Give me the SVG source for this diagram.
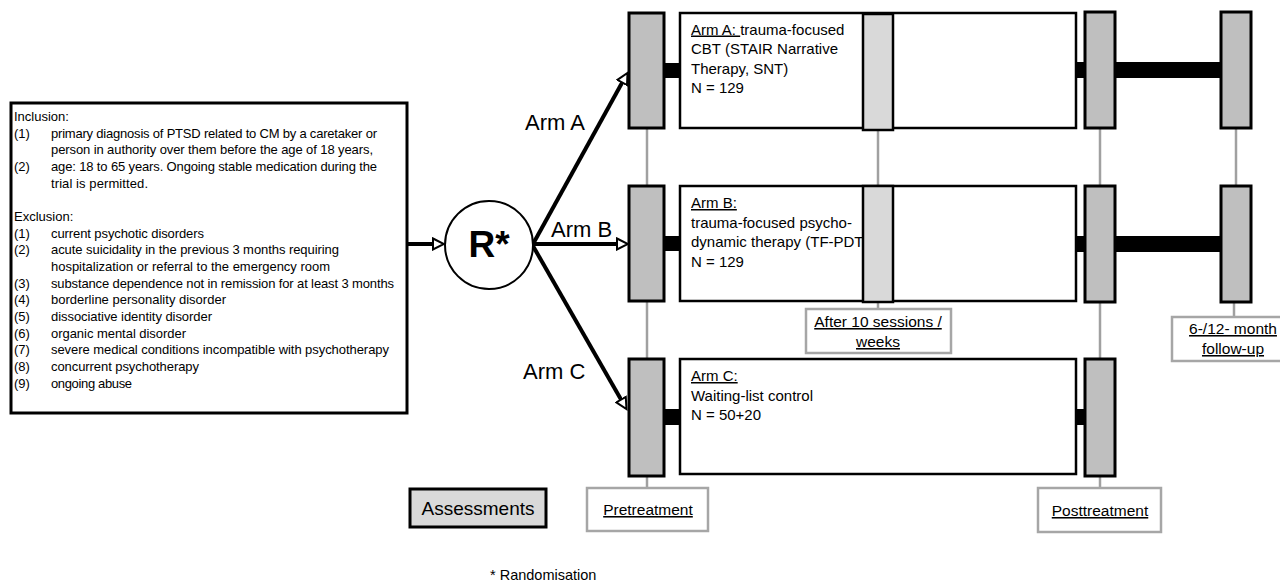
<svg xmlns="http://www.w3.org/2000/svg" width="1280" height="585" viewBox="0 0 1280 585">
<defs>
<marker id="ah" markerUnits="userSpaceOnUse" markerWidth="14" markerHeight="14" viewBox="-1 -7 14 14" refX="0" refY="0" orient="auto">
<path d="M0,-5.5 L11,0 L0,5.5 Z" fill="#fff" stroke="#000" stroke-width="2"/>
</marker>
<style>
text{font-family:"Liberation Sans",Arial,sans-serif;fill:#000}
.crit{font-size:13px}
.armt{font-size:15px}
.lab{font-size:15.5px;text-anchor:middle;text-decoration:underline}
.u{text-decoration:underline}
.box{fill:#fff;stroke:#000;stroke-width:2.5}
.asm{fill:#bfbfbf;stroke:#000;stroke-width:3}
.mid{fill:#d9d9d9;stroke:#000;stroke-width:2.5}
.lbl{fill:#fff;stroke:#a6a6a6;stroke-width:2.5}
.gl{stroke:#a0a0a0;stroke-width:2.5;fill:none}
.arr{stroke:#000;stroke-width:4;fill:none;marker-end:url(#ah)}
</style>
</defs>
<rect width="1280" height="585" fill="#fff"/>

<g id="connectors">
<line class="gl" x1="647" y1="128" x2="647" y2="186"/>
<line class="gl" x1="647" y1="301" x2="647" y2="359"/>
<line class="gl" x1="647" y1="476" x2="647" y2="488"/>
<line class="gl" x1="878" y1="130" x2="878" y2="186"/>
<line class="gl" x1="878" y1="301" x2="878" y2="309"/>
<line class="gl" x1="1100" y1="128" x2="1100" y2="186"/>
<line class="gl" x1="1100" y1="302" x2="1100" y2="359"/>
<line class="gl" x1="1100" y1="476" x2="1100" y2="488"/>
<line class="gl" x1="1236" y1="128" x2="1236" y2="186"/>
<line class="gl" x1="1234" y1="302" x2="1234" y2="317"/>
<rect x="664" y="63" width="18" height="15" fill="#000"/>
<rect x="1074" y="62" width="149" height="16" fill="#000"/>
<rect x="664" y="236" width="18" height="15" fill="#000"/>
<rect x="1074" y="236" width="149" height="16" fill="#000"/>
<rect x="664" y="409" width="18" height="16" fill="#000"/>
<rect x="1074" y="409" width="13" height="16" fill="#000"/>
<line class="arr" x1="407" y1="244" x2="433" y2="244"/>
<line class="arr" x1="533" y1="244" x2="622.2" y2="82.5"/>
<line class="arr" x1="533" y1="244" x2="617" y2="244"/>
<line class="arr" x1="533" y1="246" x2="621" y2="399.6"/>
</g>

<g id="criteria">
<rect x="11" y="103" width="396" height="310" fill="#fff" stroke="#000" stroke-width="3"/>
<g class="crit">
<text x="14" y="121">Inclusion:</text>
<text x="14" y="137.7">(1)</text>
<text x="51" y="137.7" textLength="326">primary diagnosis of PTSD related to CM by a caretaker or</text>
<text x="51" y="154.3" textLength="322">person in authority over them before the age of 18 years,</text>
<text x="14" y="171">(2)</text>
<text x="51" y="171" textLength="326">age: 18 to 65 years. Ongoing stable medication during the</text>
<text x="51" y="187.7" textLength="97">trial is permitted.</text>
<text x="14" y="221">Exclusion:</text>
<text x="14" y="237.7">(1)</text>
<text x="51" y="237.7" textLength="153">current psychotic disorders</text>
<text x="14" y="254.3">(2)</text>
<text x="51" y="254.3" textLength="288">acute suicidality in the previous 3 months requiring</text>
<text x="51" y="271" textLength="279">hospitalization or referral to the emergency room</text>
<text x="14" y="287.7">(3)</text>
<text x="51" y="287.7" textLength="343">substance dependence not in remission for at least 3 months</text>
<text x="14" y="304.3">(4)</text>
<text x="51" y="304.3" textLength="175">borderline personality disorder</text>
<text x="14" y="321">(5)</text>
<text x="51" y="321" textLength="161">dissociative identity disorder</text>
<text x="14" y="337.7">(6)</text>
<text x="51" y="337.7" textLength="135">organic mental disorder</text>
<text x="14" y="354.3">(7)</text>
<text x="51" y="354.3" textLength="338">severe medical conditions incompatible with psychotherapy</text>
<text x="14" y="371">(8)</text>
<text x="51" y="371" textLength="148">concurrent psychotherapy</text>
<text x="14" y="387.7">(9)</text>
<text x="51" y="387.7" textLength="81">ongoing abuse</text>
</g>
</g>

<g id="randomisation">
<circle cx="489" cy="245" r="44" fill="#fff" stroke="#000" stroke-width="2"/>
<text x="489" y="257" font-size="37" font-weight="bold" text-anchor="middle">R*</text>
</g>

<g id="arm-labels">
<text x="525" y="130" font-size="22">Arm A</text>
<text x="551" y="237" font-size="22">Arm B</text>
<text x="523" y="379" font-size="22">Arm C</text>
</g>

<g id="armA">
<rect class="asm" x="629" y="13" width="35" height="115"/>
<rect class="box" x="680" y="13" width="396" height="115"/>
<text class="armt" x="691" y="34.5"><tspan class="u">Arm A: </tspan>trauma-focused</text>
<text class="armt" x="691" y="54">CBT (STAIR Narrative</text>
<text class="armt" x="691" y="73.5">Therapy, SNT)</text>
<text class="armt" x="691" y="93">N = 129</text>
<rect class="mid" x="863" y="14" width="30" height="116"/>
<rect class="asm" x="1085" y="12" width="30" height="116"/>
<rect class="asm" x="1221" y="12" width="30" height="116"/>
</g>

<g id="armB">
<rect class="asm" x="629" y="186" width="35" height="115"/>
<rect class="box" x="680" y="186" width="396" height="115"/>
<text class="armt u" x="691" y="208">Arm B:</text>
<text class="armt" x="691" y="227.5">trauma-focused psycho-</text>
<text class="armt" x="691" y="247">dynamic therapy (TF-PDT)</text>
<text class="armt" x="691" y="266.5">N = 129</text>
<rect class="mid" x="863" y="186" width="30" height="116"/>
<rect class="asm" x="1085" y="186" width="30" height="116"/>
<rect class="asm" x="1221" y="186" width="30" height="116"/>
</g>

<g id="armC">
<rect class="asm" x="629" y="359" width="35" height="117"/>
<rect class="box" x="680" y="359" width="396" height="115"/>
<text class="armt u" x="691" y="381">Arm C:</text>
<text class="armt" x="691" y="400.5">Waiting-list control</text>
<text class="armt" x="691" y="420">N = 50+20</text>
<rect class="asm" x="1085" y="359" width="30" height="117"/>
</g>

<g id="label-midpoint">
<rect class="lbl" x="806" y="309" width="145" height="44"/>
<text class="lab" x="878" y="327">After 10 sessions /</text>
<text class="lab" x="878" y="347">weeks</text>
</g>

<g id="label-followup">
<rect class="lbl" x="1172" y="317" width="125" height="44"/>
<text class="lab" x="1233" y="334">6-/12- month</text>
<text class="lab" x="1233" y="354">follow-up</text>
</g>

<g id="label-pre">
<rect class="lbl" x="587" y="488" width="121" height="43"/>
<text class="lab" x="648" y="515">Pretreatment</text>
</g>

<g id="label-post">
<rect class="lbl" x="1038" y="488" width="123" height="44"/>
<text class="lab" x="1100" y="516">Posttreatment</text>
</g>

<g id="legend">
<rect x="410" y="489" width="136" height="38" fill="#d9d9d9" stroke="#000" stroke-width="3"/>
<text x="478" y="515" font-size="19" text-anchor="middle">Assessments</text>
<text x="490" y="580" font-size="14.5">* Randomisation</text>
</g>
</svg>
